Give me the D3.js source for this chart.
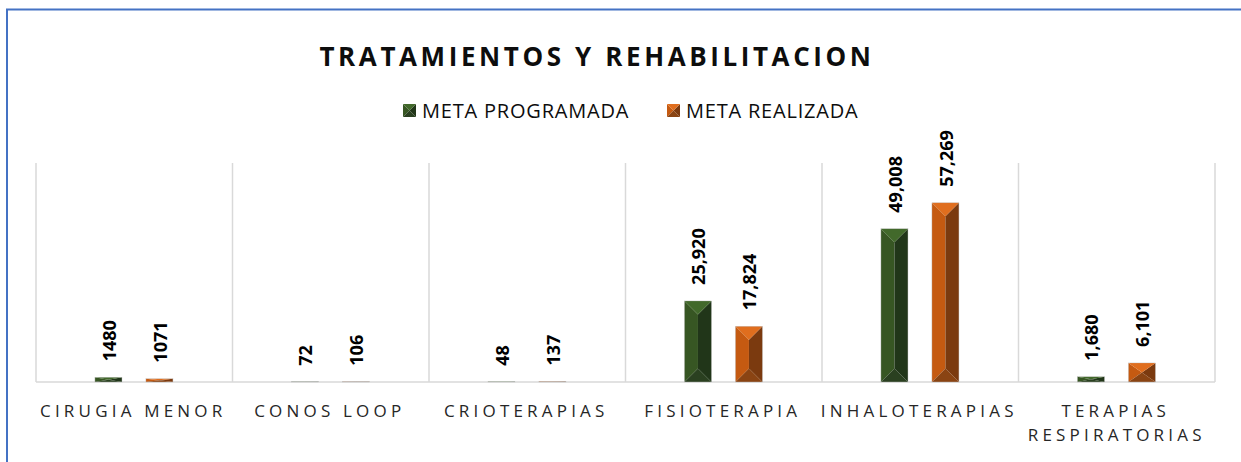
<!DOCTYPE html>
<html>
<head>
<meta charset="utf-8">
<script src="https://cdn.jsdelivr.net/npm/d3@7"></script>
<style>
  body { margin: 0; background: #fff; }
  svg { display: block; font-family: "Open Sans", sans-serif; }
</style>
</head>
<body>
<div id="chart"></div>
<script>
// chart data
const categories = ['CIRUGIA MENOR', 'CONOS LOOP', 'CRIOTERAPIAS', 'FISIOTERAPIA', 'INHALOTERAPIAS', 'TERAPIAS RESPIRATORIAS'];
const seriesNames = ['META PROGRAMADA', 'META REALIZADA'];
const metaProgramada = [1480, 72, 48, 25920, 49008, 1680];
const metaRealizada = [1071, 106, 137, 17824, 57269, 6101];
const valueLabels = [
    ['1480', '72', '48', '25,920', '49,008', '1,680'],
    ['1071', '106', '137', '17,824', '57,269', '6,101']
];
const categoryLines = [['CIRUGIA MENOR'], ['CONOS LOOP'], ['CRIOTERAPIAS'], ['FISIOTERAPIA'], ['INHALOTERAPIAS'], ['TERAPIAS', 'RESPIRATORIAS']];

const width = 1241, height = 462;
const margin = {top: 163, left: 36, right: 26, bottom: 80};
const plotBottom = height - margin.bottom; // 382

// face colours: left, right, top, bottom
const shades = {
    'META PROGRAMADA': {left: '#375623', right: '#213619', top: '#42692b', bottom: '#2a4020'},
    'META REALIZADA':  {left: '#c55a11', right: '#7b3a0f', top: '#e06e1e', bottom: '#8a4413'}
};

const svg = d3.select('#chart').append('svg')
    .attr('width', width)
    .attr('height', height);

// outer frame (only top + left visible)
svg.append('rect')
    .attr('x', 7).attr('y', 9.5)
    .attr('width', width + 20).attr('height', height + 20)
    .attr('fill', 'none')
    .attr('stroke', '#4472c4')
    .attr('stroke-width', 2);

const x0 = d3.scaleBand()
    .domain(categories)
    .range([margin.left, width - margin.right])
    .padding(0);

const bw = x0.bandwidth();
const x1 = d3.scaleBand()
    .domain(seriesNames)
    .range([bw * 0.30, bw * 0.697])
    .paddingInner(0.47);

const y = d3.scaleLinear()
    .domain([0, 70000])
    .range([plotBottom, margin.top]);

// vertical category separators
const bounds = categories.map(c => x0(c)).concat([x0.range()[1]]);
svg.append('g').selectAll('line')
    .data(bounds)
    .enter().append('line')
    .attr('x1', d => d).attr('x2', d => d)
    .attr('y1', y.range()[1]).attr('y2', plotBottom)
    .attr('stroke', '#d9d9d9')
    .attr('stroke-width', 1.5);

// baseline
svg.append('line')
    .attr('x1', x0.range()[0]).attr('x2', x0.range()[1])
    .attr('y1', plotBottom).attr('y2', plotBottom)
    .attr('stroke', '#d9d9d9')
    .attr('stroke-width', 1.5);

// bars, built as bevelled blocks
const rows = [];
categories.forEach((c, i) => {
    rows.push({cat: c, series: seriesNames[0], value: metaProgramada[i], label: valueLabels[0][i]});
    rows.push({cat: c, series: seriesNames[1], value: metaRealizada[i], label: valueLabels[1][i]});
});

function faces(x, yTop, w, h) {
    const b = Math.min(w / 2, h / 2);
    const cx = x + w / 2, yb = yTop + h;
    return {
        left:   [[x, yTop], [cx, yTop + b], [cx, yb - b], [x, yb]],
        right:  [[x + w, yTop], [cx, yTop + b], [cx, yb - b], [x + w, yb]],
        top:    [[x, yTop], [x + w, yTop], [cx, yTop + b]],
        bottom: [[x, yb], [x + w, yb], [cx, yb - b]]
    };
}

const bars = svg.append('g').selectAll('g.bar')
    .data(rows)
    .enter().append('g')
    .attr('class', 'bar');

bars.each(function (d) {
    const g = d3.select(this);
    const bx = x0(d.cat) + x1(d.series);
    const by = y(d.value);
    const bh = plotBottom - by;
    const f = faces(bx, by, x1.bandwidth(), bh);
    ['left', 'right', 'top', 'bottom'].forEach(k => {
        g.append('polygon')
            .attr('points', f[k].map(p => p.join(',')).join(' '))
            .attr('fill', shades[d.series][k]);
    });
    g.append('rect')
        .attr('x', bx).attr('y', by)
        .attr('width', x1.bandwidth()).attr('height', bh)
        .attr('fill', 'none')
        .attr('stroke', '#bfbfbf')
        .attr('stroke-width', 0.4);
});

// value labels (rotated)
svg.append('g').selectAll('text')
    .data(rows)
    .enter().append('text')
    .attr('transform', d => 'translate(' + (x0(d.cat) + x1(d.series) + x1.bandwidth() / 2 + 1) + ',' + (y(d.value) - 16) + ') rotate(-90)')
    .attr('dy', '0.36em')
    .attr('font-size', 18)
    .attr('font-weight', 'bold')
    .attr('fill', '#000')
    .text(d => d.label);

// category labels
const catText = svg.append('g').selectAll('text')
    .data(categories)
    .enter().append('text')
    .attr('x', d => x0(d) + bw / 2)
    .attr('y', 417)
    .attr('text-anchor', 'middle')
    .attr('font-size', 17)
    .attr('letter-spacing', 4.2)
    .attr('fill', '#262626');

catText.each(function (d, i) {
    const t = d3.select(this);
    categoryLines[i].forEach((line, j) => {
        t.append('tspan')
            .attr('x', x0(d) + bw / 2 + (j === 0 ? -1 : 0))
            .attr('dy', j === 0 ? 0 : 24)
            .text(line);
    });
});

// title
svg.append('text')
    .attr('x', 597)
    .attr('y', 66)
    .attr('text-anchor', 'middle')
    .attr('font-size', 26)
    .attr('font-weight', 'bold')
    .attr('letter-spacing', 3.6)
    .attr('fill', '#0d0d0d')
    .text('TRATAMIENTOS Y REHABILITACION');

// legend
const legendX = [403, 667];
const legend = svg.append('g').selectAll('g')
    .data(seriesNames)
    .enter().append('g')
    .attr('transform', (d, i) => 'translate(' + legendX[i] + ',104)');

legend.each(function (d) {
    const g = d3.select(this);
    const f = faces(0, 0, 13, 13);
    ['left', 'right', 'top', 'bottom'].forEach(k => {
        g.append('polygon')
            .attr('points', f[k].map(p => p.join(',')).join(' '))
            .attr('fill', shades[d][k]);
    });
});

legend.append('text')
    .attr('x', 19)
    .attr('y', 13.5)
    .attr('font-size', 20)
    .attr('letter-spacing', 0.8)
    .attr('fill', '#0d0d0d')
    .text(d => d);
</script>
</body>
</html>
